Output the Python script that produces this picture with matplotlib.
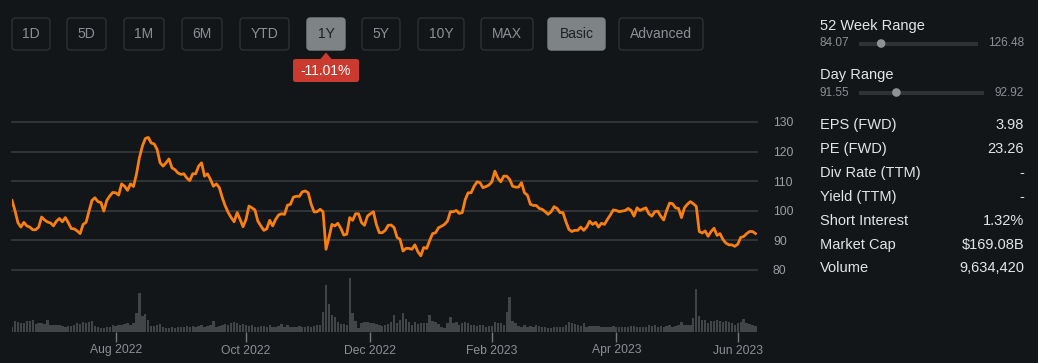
import matplotlib
matplotlib.use("Agg")
import matplotlib.pyplot as plt
import pandas as pd
from matplotlib.patches import FancyBboxPatch, Polygon, Circle, Rectangle

plt.rcParams['font.family'] = ['Liberation Sans', 'DejaVu Sans']

# ---------------- data ----------------
start_date = '2022-06-09'
holidays = ['2022-06-20', '2022-07-04', '2022-09-05', '2022-11-24', '2022-12-26',
            '2023-01-02', '2023-01-16', '2023-02-20', '2023-04-07', '2023-05-29']

close = [
    103.5, 100.1, 96.0, 94.5, 96.1, 94.9, 94.5, 93.6, 93.6, 94.5,
    97.9, 96.9, 96.2, 95.9, 94.9, 96.5, 97.4, 96.3, 97.7, 96.0,
    94.0, 93.9, 93.2, 92.3, 95.4, 96.1, 99.9, 103.5, 104.4, 103.1,
    102.8, 99.9, 103.5, 105.0, 106.2, 106.1, 105.3, 109.1, 108.3, 106.9,
    109.1, 108.2, 112.3,
    117.9, 121.8, 124.4, 124.8, 122.9, 122.6, 120.7, 116.2, 115.1, 116.2,
    117.5, 114.5, 113.9, 112.8, 112.3, 112.5, 111.1, 110.2, 112.5, 112.5,
    115.1, 116.2, 111.7, 112.5, 110.6, 108.3, 109.1, 107.8, 104.4, 101.6,
    99.4, 97.7, 96.3, 99.4, 97.1, 94.6, 97.1, 101.6, 101.0, 100.3,
    96.5,
    94.9, 93.4, 93.9, 96.8, 94.9, 97.1, 98.6, 99.0, 98.8, 101.9,
    102.2, 104.6, 104.9, 104.9, 106.4, 106.7, 106.1, 102.2, 99.6, 99.7,
    100.5, 99.7, 87.0, 91.0, 95.4, 94.9, 95.8, 94.1, 91.8, 92.1,
    97.7, 96.8, 99.0, 99.0, 96.0, 95.1, 98.2, 99.0, 99.7, 95.4,
    92.6, 92.6,
    93.4, 95.1, 95.2, 94.3, 91.0, 90.4, 86.4, 87.3, 87.3, 87.0,
    88.5, 86.2, 84.8, 87.6, 87.3, 90.0, 92.3, 92.6, 94.3, 94.8,
    95.4, 96.5, 99.7, 99.7, 100.1, 99.1, 99.4, 103.8, 106.1, 106.1,
    108.3, 109.8, 109.5, 107.8, 108.2, 108.7, 109.8, 113.4, 111.1, 109.8,
    111.7, 111.7,
    110.6, 108.3, 108.0, 108.0, 109.5, 106.1, 105.3, 102.2, 101.8, 101.8,
    100.8, 100.5, 99.7, 98.8, 99.7, 101.4, 100.8, 99.4, 99.4, 96.3,
    93.7, 93.0, 93.4, 93.4, 94.5, 93.4, 94.5, 96.5, 95.4, 96.1,
    94.5, 95.8, 95.4, 97.1, 98.6, 100.3, 100.1, 99.7, 99.9, 100.1,
    100.8, 100.1,
    98.2, 101.0, 100.1, 100.6, 101.0, 99.0, 98.2, 99.7, 99.9, 98.2,
    96.9, 100.1, 102.6, 102.4, 101.0, 100.8, 97.7, 101.0, 102.2, 103.1,
    102.4, 101.5, 93.0, 92.5, 93.2, 91.4, 93.0, 94.1, 91.7, 92.3,
    90.3, 89.1, 88.5, 88.5, 88.0, 88.7, 91.0, 91.3, 92.3, 93.0,
    93.0, 92.3,
]

volume_m = [
    3.0, 7.4, 6.7, 6.1, 6.1, 7.2, 7.2, 7.8, 5.2, 5.7,
    6.1, 5.2, 7.8, 4.6, 4.6, 4.8, 4.3, 3.9, 3.5, 3.9,
    3.9, 4.6, 5.7, 5.2, 6.7, 5.7, 6.7, 7.0, 3.9, 3.5,
    2.4, 2.8, 3.5, 3.5, 4.6, 3.9, 4.6, 4.6, 5.2, 5.7,
    4.6, 5.7, 12.6, 25.2, 10.4, 11.7, 7.8, 3.9, 3.9, 4.6,
    5.2, 3.0, 2.8, 2.6, 3.0, 2.6, 3.5, 3.0, 3.5, 3.9,
    3.5, 3.9, 3.5, 3.9, 4.6, 3.5, 3.9, 4.6, 7.2, 3.5,
    3.9, 4.6, 5.2, 4.6, 5.7, 6.5, 5.7, 4.6, 5.2, 4.6,
    3.9, 4.3, 3.0, 3.5, 3.9, 3.9, 3.0, 4.6, 3.5, 3.0,
    3.9, 5.2, 3.5, 4.6, 3.5, 3.5, 3.0, 3.9, 3.5, 3.5,
    3.9, 3.5, 3.9, 4.6, 4.6, 13.3, 30.7, 18.3, 11.1, 9.6,
    6.7, 5.2, 5.2, 4.6, 35.0, 12.6, 7.2, 2.4, 6.1, 6.5,
    6.7, 6.1, 5.7, 5.2, 4.6, 3.9, 4.6, 5.2, 6.7, 11.1,
    5.7, 7.8, 12.6, 8.3, 6.7, 4.6, 6.7, 5.2, 5.7, 5.7,
    5.7, 11.1, 7.4, 6.7, 5.2, 3.5, 2.4, 6.1, 9.6, 5.7,
    6.7, 4.6, 5.7, 6.7, 5.7, 4.6, 4.6, 3.9, 4.6, 4.6,
    3.5, 3.9, 3.9, 6.7, 6.1, 5.7, 4.6, 13.3, 22.6, 7.4,
    6.1, 3.9, 3.5, 4.6, 3.5, 3.9, 3.5, 4.6, 3.9, 3.0,
    3.0, 2.4, 2.4, 3.0, 3.0, 3.5, 3.5, 4.6, 6.5, 6.1,
    5.2, 4.6, 3.9, 5.7, 3.0, 3.9, 3.9, 3.9, 3.9, 3.0,
    3.0, 3.5, 3.5, 3.9, 3.5, 3.0, 3.0, 3.5, 3.5, 3.9,
    3.9, 3.5, 3.5, 3.0, 3.0, 4.3, 3.9, 4.3, 3.5, 3.9,
    3.5, 3.9, 4.6, 3.5, 3.9, 4.6, 6.5, 4.6, 4.8, 4.6,
    9.3, 28.0, 10.4, 7.8, 7.8, 6.1, 7.4, 7.4, 7.8, 7.4,
    6.7, 7.4, 6.7, 6.1, 4.6, 5.7, 6.7, 8.7, 6.1, 5.2,
    4.6, 3.9,
]

price_ticks = [80, 90, 100, 110, 120, 130]
tick_months = ['2022-08-01', '2022-10-01', '2022-12-01', '2023-02-01', '2023-04-01', '2023-06-01']

range_buttons = ['1D', '5D', '1M', '6M', 'YTD', '1Y', '5Y', '10Y', 'MAX']
mode_buttons = ['Basic', 'Advanced']
active_range = '1Y'
active_mode = 'Basic'
change_label = '-11.01%'

week52_low, week52_high = 84.07, 126.48
day_low, day_high = 91.55, 92.92
current_price = 91.96

stat_labels = ['EPS (FWD)', 'PE (FWD)', 'Div Rate (TTM)', 'Yield (TTM)',
               'Short Interest', 'Market Cap', 'Volume']
stat_values = ['3.98', '23.26', '-', '-', '1.32%', '$169.08B', '9,634,420']

# ---------------- style ----------------
BG = '#131619'
GRID = '#35383b'
LINE = '#fb7f0c'
VOL = '#424548'
MUTED = '#8c9094'
WHITE = '#e4e5e6'
BTN_BORDER = '#2d3034'
BTN_ACTIVE = '#7e8386'
BADGE = '#cb3a2e'
TRACK = '#2e3235'
KNOB = '#8e9295'

W, H = 1038, 363
fig = plt.figure(figsize=(W / 100, H / 100), dpi=100, facecolor=BG)

dates = pd.bdate_range(start_date, periods=len(close), freq='C', holidays=holidays)
idx = list(range(len(close)))
xmax = len(close) - 0.5

# price axes
ax = fig.add_axes([12 / W, (H - 270) / H, 745 / W, 148 / H])
ax.set_facecolor('none')
for t in price_ticks:
    ax.axhline(t, color=GRID, lw=1.3, zorder=0, clip_on=False)
ax.plot(idx, close, color=LINE, lw=2.0, solid_joinstyle='round', zorder=3)
ax.set_xlim(0, xmax)
ax.set_ylim(price_ticks[0], price_ticks[-1])
ax.set_yticks(price_ticks)
ax.set_yticklabels([str(t) for t in price_ticks])
ax.tick_params(axis='y', left=False, labelleft=False, right=True, labelright=True,
               length=0, pad=11.5, labelsize=8.7, labelcolor='#9a9ea2')
ax.set_xticks([])
for s in ax.spines.values():
    s.set_visible(False)

# volume axes
axv = fig.add_axes([12 / W, (H - 332) / H, 745 / W, 60 / H])
axv.set_facecolor('none')
axv.bar(idx, volume_m, width=0.8, color=VOL, linewidth=0)
axv.set_xlim(0, xmax)
axv.set_ylim(0, 39)
axv.set_yticks([])
tick_pos = [int((dates < pd.Timestamp(m)).sum()) for m in tick_months]
tick_lab = [pd.Timestamp(m).strftime('%b %Y') for m in tick_months]
axv.set_xticks(tick_pos)
axv.set_xticklabels(tick_lab)
axv.tick_params(axis='x', length=7.5, width=1, color='#75797c', pad=1.5,
                labelsize=8.7, labelcolor=MUTED)
for s in axv.spines.values():
    s.set_visible(False)

# overlay in pixel coordinates
ov = fig.add_axes([0, 0, 1, 1])
ov.set_xlim(0, W)
ov.set_ylim(H, 0)
ov.axis('off')
ov.patch.set_visible(False)

button_x = [(12, 50), (67, 106), (124, 164), (182, 222), (240, 289), (307, 345),
            (362, 400), (418, 464), (481, 533), (548, 605), (619, 703)]
labels_all = range_buttons + mode_buttons
for (x0, x1), lab in zip(button_x, labels_all):
    active = lab in (active_range, active_mode)
    box = FancyBboxPatch((x0, 18), x1 - x0, 32,
                         boxstyle='round,pad=0,rounding_size=3.5',
                         facecolor=BTN_ACTIVE if active else BG,
                         edgecolor=BTN_ACTIVE if active else BTN_BORDER, lw=1.0)
    ov.add_patch(box)
    ov.text((x0 + x1) / 2, 34.5, lab, ha='center', va='center', fontsize=10,
            color='#1c1f22' if active else MUTED)

# change badge under active range button
bx0, bx1 = button_x[labels_all.index(active_range)]
bc = (bx0 + bx1) / 2
ov.add_patch(FancyBboxPatch((bc - 33, 59), 66, 23,
                            boxstyle='round,pad=0,rounding_size=2.5',
                            facecolor=BADGE, edgecolor='none'))
ov.add_patch(Polygon([(bc - 6, 59.5), (bc, 52.5), (bc + 6, 59.5)], closed=True,
                     facecolor=BADGE, edgecolor='none'))
ov.text(bc, 71, change_label, ha='center', va='center', fontsize=10, color='white')

# right panel
LX, RX = 820, 1024


def range_row(y_title, y_bar, title, lo, hi, track_end, value):
    ov.text(LX, y_title, title, ha='left', va='center', fontsize=10.5, color=WHITE)
    ov.text(LX, y_bar, f'{lo:.2f}', ha='left', va='center', fontsize=8.5, color=MUTED)
    ov.text(RX, y_bar, f'{hi:.2f}', ha='right', va='center', fontsize=8.5, color=MUTED)
    tx0 = 859
    ov.add_patch(Rectangle((tx0, y_bar - 2), track_end - tx0, 4, facecolor=TRACK,
                           edgecolor='none'))
    frac = (value - lo) / (hi - lo)
    ov.add_patch(Circle((tx0 + frac * (track_end - tx0), y_bar), 4.3, facecolor=KNOB,
                        edgecolor='none'))


range_row(26, 43.5, '52 Week Range', week52_low, week52_high, 978, current_price)
range_row(75, 92.5, 'Day Range', day_low, day_high, 984, current_price)

for i, (lab, val) in enumerate(zip(stat_labels, stat_values)):
    y = 125 + i * 23.9
    ov.text(LX, y, lab, ha='left', va='center', fontsize=10.5, color=WHITE)
    ov.text(RX, y, val, ha='right', va='center', fontsize=10.5, color=WHITE)

fig.savefig('out.png', dpi=100, facecolor=BG)
